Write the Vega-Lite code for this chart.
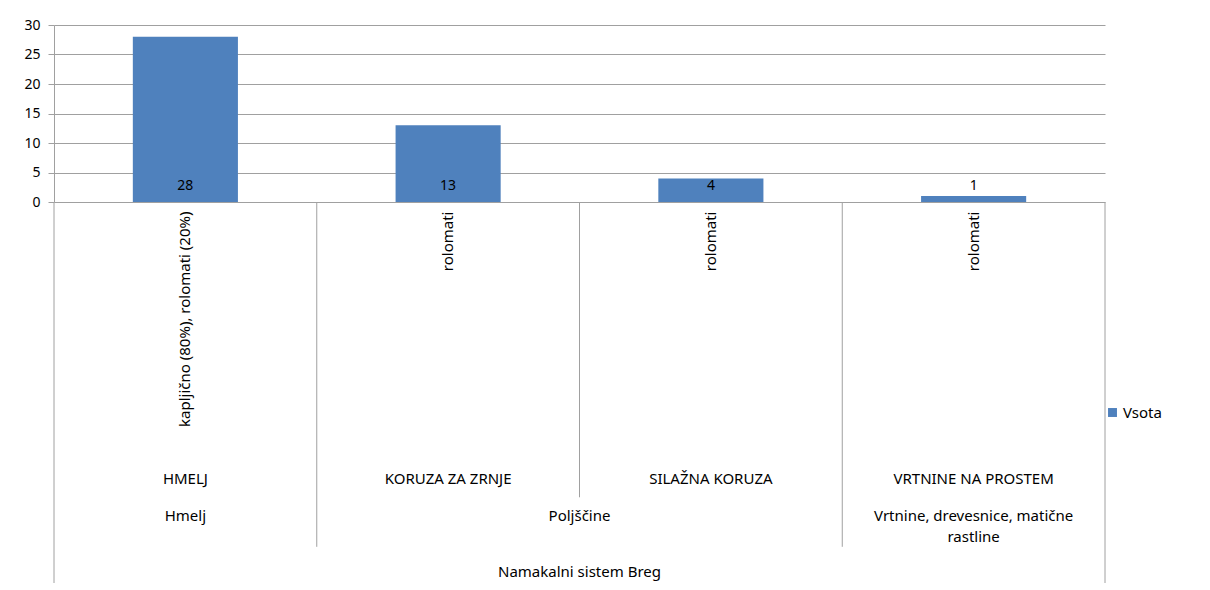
{
  "$schema": "https://vega.github.io/schema/vega-lite/v6.json",
  "padding": {"left": 23, "top": 18, "right": 0, "bottom": 0},
  "background": "white",
  "spacing": 0,
  "bounds": "flush",
  "config": {
    "view": {"stroke": null},
    "font": "Noto Sans",
    "text": {"font": "Noto Sans", "fontSize": 15, "color": "#000000"},
    "axisY": {
      "title": null,
      "values": [0, 5, 10, 15, 20, 25, 30],
      "labelOverlap": false,
      "grid": true,
      "gridColor": "#a0a0a0",
      "domainColor": "#a0a0a0",
      "tickColor": "#a0a0a0",
      "tickSize": 6,
      "labelPadding": 8,
      "labelFont": "Noto Sans",
      "labelFontSize": 14,
      "labelColor": "#000000"
    }
  },
  "datasets": {
    "crops": [
      {"crop": "HMELJ", "value": 28},
      {"crop": "KORUZA ZA ZRNJE", "value": 13},
      {"crop": "SILAŽNA KORUZA", "value": 4},
      {"crop": "VRTNINE NA PROSTEM", "value": 1}
    ],
    "details": [
      {"pos": 0.5, "row": 0.5, "label": "kapljično (80%), rolomati (20%)"},
      {"pos": 1.5, "row": 0.5, "label": "rolomati"},
      {"pos": 2.5, "row": 0.5, "label": "rolomati"},
      {"pos": 3.5, "row": 0.5, "label": "rolomati"}
    ],
    "labels": [
      {"pos": 0.5, "row": 14.15, "label": "HMELJ"},
      {"pos": 1.5, "row": 14.15, "label": "KORUZA ZA ZRNJE"},
      {"pos": 2.5, "row": 14.15, "label": "SILAŽNA KORUZA"},
      {"pos": 3.5, "row": 14.15, "label": "VRTNINE NA PROSTEM"},
      {"pos": 0.5, "row": 16.1, "label": "Hmelj"},
      {"pos": 2.0, "row": 16.1, "label": "Poljščine"},
      {"pos": 3.5, "row": 16.1, "label": "Vrtnine, drevesnice, matične\nrastline"},
      {"pos": 2.0, "row": 19.05, "label": "Namakalni sistem Breg"}
    ],
    "dividers": [
      {"pos": 0, "from": 0, "to": 20},
      {"pos": 1, "from": 0, "to": 18.1},
      {"pos": 2, "from": 0, "to": 15.5},
      {"pos": 3, "from": 0, "to": 18.1},
      {"pos": 4, "from": 0, "to": 20}
    ]
  },
  "vconcat": [
    {
      "width": 1051,
      "height": 177,
      "data": {"name": "crops"},
      "encoding": {
        "x": {
          "field": "crop",
          "type": "nominal",
          "sort": null,
          "scale": {"paddingInner": 0.6, "paddingOuter": 0.3},
          "axis": null
        }
      },
      "layer": [
        {
          "mark": {"type": "bar", "color": "#4f81bd"},
          "encoding": {
            "y": {
              "field": "value",
              "type": "quantitative",
              "scale": {"domain": [0, 30]}
            },
            "color": {
              "datum": "Vsota",
              "type": "nominal",
              "scale": {"range": ["#4f81bd"]},
              "legend": {
                "title": null,
                "orient": "none",
                "legendX": 1051,
                "legendY": 380,
                "symbolType": "square",
                "symbolSize": 80,
                "symbolStrokeWidth": 0,
                "labelFont": "Noto Sans",
                "labelFontSize": 15,
                "labelColor": "#000000",
                "labelOffset": 3
              }
            }
          }
        },
        {
          "mark": {"type": "text", "baseline": "middle", "dy": -16, "fontSize": 14},
          "encoding": {
            "y": {"datum": 0, "type": "quantitative"},
            "text": {"field": "value", "type": "quantitative"}
          }
        }
      ]
    },
    {
      "width": 1051,
      "height": 381,
      "layer": [
        {
          "data": {"name": "dividers"},
          "mark": {"type": "rule", "color": "#a0a0a0", "strokeWidth": 1},
          "encoding": {
            "x": {"field": "pos", "type": "quantitative", "scale": {"domain": [0, 4]}, "axis": null},
            "y": {"field": "from", "type": "quantitative", "scale": {"domain": [0, 20], "reverse": true}, "axis": null},
            "y2": {"field": "to"}
          }
        },
        {
          "data": {"name": "details"},
          "mark": {"type": "text", "angle": 270, "align": "right", "baseline": "middle"},
          "encoding": {
            "x": {"field": "pos", "type": "quantitative"},
            "y": {"field": "row", "type": "quantitative"},
            "text": {"field": "label", "type": "nominal"}
          }
        },
        {
          "data": {"name": "labels"},
          "mark": {"type": "text", "align": "center", "baseline": "top", "lineBreak": "\n", "lineHeight": 21},
          "encoding": {
            "x": {"field": "pos", "type": "quantitative"},
            "y": {"field": "row", "type": "quantitative"},
            "text": {"field": "label", "type": "nominal"}
          }
        }
      ]
    }
  ]
}
